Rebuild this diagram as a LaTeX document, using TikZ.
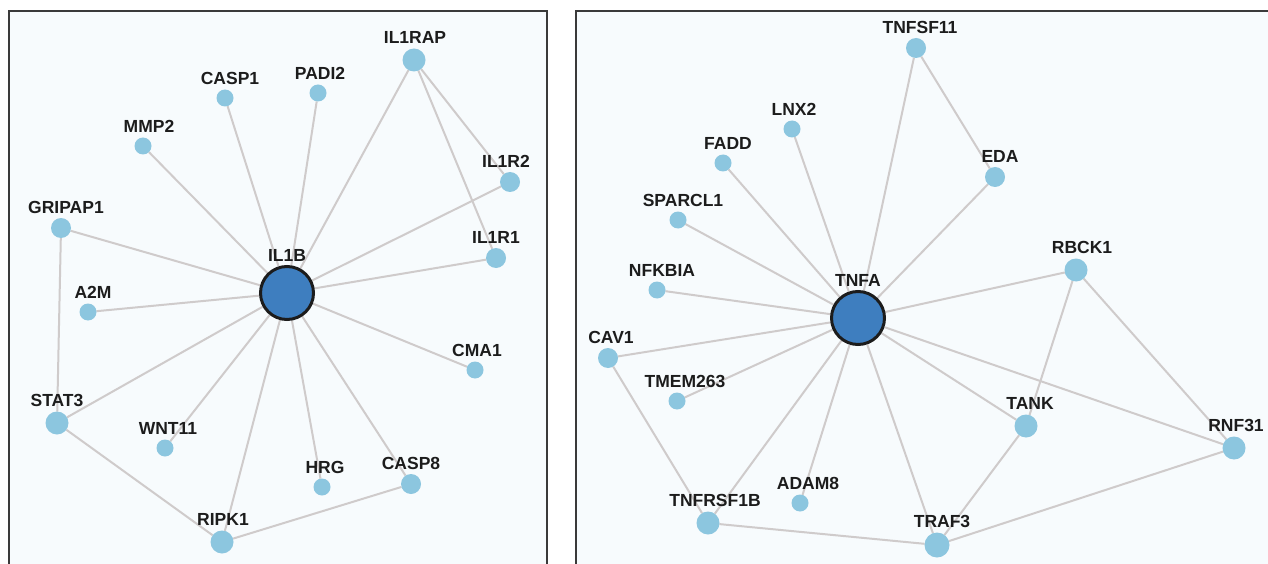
\documentclass[tikz,border=0pt]{standalone}
\usepackage{fontspec}
\setmainfont{Liberation Sans}
\pgfdeclarelayer{bg}
\pgfdeclarelayer{edges}
\pgfsetlayers{bg,edges,main}
\definecolor{panelbg}{HTML}{F7FBFD}
\definecolor{panelline}{HTML}{3A3A3A}
\definecolor{nodeblue}{HTML}{8CC6DF}
\definecolor{hubblue}{HTML}{3E7EBF}
\definecolor{edgegray}{HTML}{CFCBCB}
\definecolor{txt}{HTML}{1C1C1C}
\tikzset{
  lab/.style={font=\bfseries\fontsize{17.5}{19}\selectfont, text=txt, inner sep=0pt, label distance=4.5pt},
  sn/.style={circle, fill=nodeblue, draw=none, inner sep=0pt, outer sep=0pt, minimum size=#1},
  dA/.style={sn=17pt},
  dB/.style={sn=20pt},
  dC/.style={sn=23pt},
  dD/.style={sn=25pt},
  hub/.style={circle, fill=hubblue, draw=txt, line width=3pt, minimum size=53pt, inner sep=0pt},
  edge/.style={draw=edgegray, line width=2pt},
  panel/.style={fill=panelbg, draw=none},
  border/.style={draw=panelline, line width=1.5pt}
}
\begin{document}
\begin{tikzpicture}[x=1pt,y=-1pt]
\useasboundingbox (0,0) rectangle (1268,564);
\begin{pgfonlayer}{bg}
  \fill[panel] (9,11) rectangle (547,570);
  \fill[panel] (576,11) rectangle (1272,570);
  \draw[border] (9,570) -- (9,11) -- (547,11) -- (547,570);
  \draw[border] (576,570) -- (576,11) -- (1272,11);
\end{pgfonlayer}

% ---------- left panel ----------
\node[hub, label={[lab,label distance=3.5pt]above:IL1B}] (il1b) at (287,293) {};
\node[dC, label={[lab,xshift=1pt]above:IL1RAP}] (il1rap) at (414,60) {};
\node[dA, label={[lab,xshift=5pt]above:CASP1}] (casp1) at (225,98) {};
\node[dA, label={[lab,xshift=2pt]above:PADI2}] (padi2) at (318,93) {};
\node[dA, label={[lab,xshift=6pt]above:MMP2}] (mmp2) at (143,146) {};
\node[dB, label={[lab,xshift=-4pt]above:IL1R2}] (il1r2) at (510,182) {};
\node[dB, label={[lab,xshift=5pt]above:GRIPAP1}] (gripap1) at (61,228) {};
\node[dB, label={[lab]above:IL1R1}] (il1r1) at (496,258) {};
\node[dA, label={[lab,xshift=5pt]above:A2M}] (a2m) at (88,312) {};
\node[dA, label={[lab,xshift=2pt]above:CMA1}] (cma1) at (475,370) {};
\node[dC, label={[lab]above:STAT3}] (stat3) at (57,423) {};
\node[dA, label={[lab,xshift=3pt]above:WNT11}] (wnt11) at (165,448) {};
\node[dA, label={[lab,xshift=3pt]above:HRG}] (hrg) at (322,487) {};
\node[dB, label={[lab]above:CASP8}] (casp8) at (411,484) {};
\node[dC, label={[lab,xshift=1pt]above:RIPK1}] (ripk1) at (222,542) {};

% ---------- right panel ----------
\node[hub, label={[lab,label distance=3.5pt]above:TNFA}] (tnfa) at (858,318) {};
\node[dB, label={[lab,xshift=4pt]above:TNFSF11}] (tnfsf11) at (916,48) {};
\node[dA, label={[lab,xshift=2pt]above:LNX2}] (lnx2) at (792,129) {};
\node[dA, label={[lab,xshift=5pt]above:FADD}] (fadd) at (723,163) {};
\node[dB, label={[lab,xshift=5pt]above:EDA}] (eda) at (995,177) {};
\node[dA, label={[lab,xshift=5pt]above:SPARCL1}] (sparcl1) at (678,220) {};
\node[dC, label={[lab,xshift=6pt]above:RBCK1}] (rbck1) at (1076,270) {};
\node[dA, label={[lab,xshift=5pt]above:NFKBIA}] (nfkbia) at (657,290) {};
\node[dB, label={[lab,xshift=3pt]above:CAV1}] (cav1) at (608,358) {};
\node[dA, label={[lab,xshift=8pt]above:TMEM263}] (tmem263) at (677,401) {};
\node[dC, label={[lab,xshift=4pt]above:TANK}] (tank) at (1026,426) {};
\node[dC, label={[lab,xshift=2pt]above:RNF31}] (rnf31) at (1234,448) {};
\node[dA, label={[lab,xshift=8pt]above:ADAM8}] (adam8) at (800,503) {};
\node[dC, label={[lab,xshift=7pt]above:TNFRSF1B}] (tnfrsf1b) at (708,523) {};
\node[dD, label={[lab,xshift=5pt]above:TRAF3}] (traf3) at (937,545) {};

\begin{pgfonlayer}{edges}
  \foreach \n in {il1rap,casp1,padi2,mmp2,il1r2,gripap1,il1r1,a2m,cma1,stat3,wnt11,hrg,casp8,ripk1}
    \draw[edge] (il1b) -- (\n);
  \draw[edge] (il1rap) -- (il1r2);
  \draw[edge] (il1rap) -- (il1r1);
  \draw[edge] (gripap1) -- (stat3);
  \draw[edge] (stat3) -- (ripk1);
  \draw[edge] (ripk1) -- (casp8);

  \foreach \n in {tnfsf11,lnx2,fadd,eda,sparcl1,rbck1,nfkbia,cav1,tmem263,tank,rnf31,adam8,tnfrsf1b,traf3}
    \draw[edge] (tnfa) -- (\n);
  \draw[edge] (tnfsf11) -- (eda);
  \draw[edge] (rbck1) -- (tank);
  \draw[edge] (rbck1) -- (rnf31);
  \draw[edge] (cav1) -- (tnfrsf1b);
  \draw[edge] (tnfrsf1b) -- (traf3);
  \draw[edge] (traf3) -- (tank);
  \draw[edge] (traf3) -- (rnf31);
\end{pgfonlayer}
\end{tikzpicture}
\end{document}
